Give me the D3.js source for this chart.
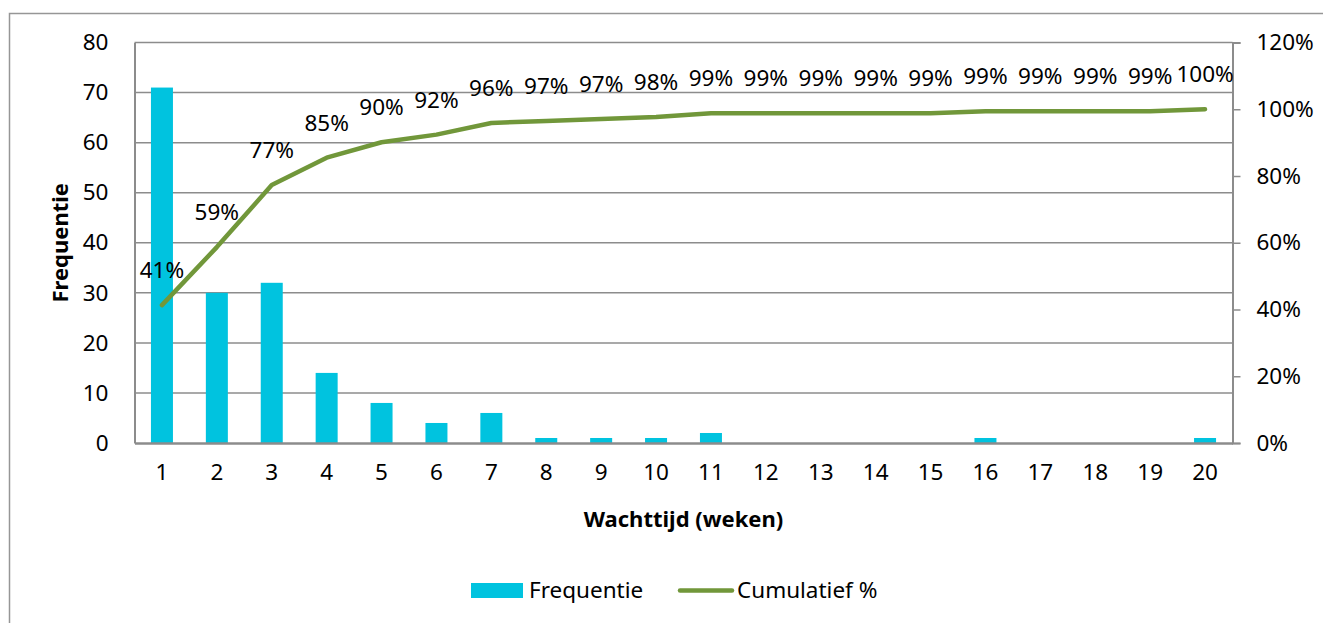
<!DOCTYPE html>
<html><head><meta charset="utf-8">
<script src="https://cdn.jsdelivr.net/npm/d3@7"></script>
<style>
html,body{margin:0;padding:0;background:#fff;}
svg{display:block;font-family:"Noto Sans","Open Sans",sans-serif;}
</style></head>
<body>
<svg id="chart" width="1323" height="623"></svg>
<script>
const categories = ["1","2","3","4","5","6","7","8","9","10","11","12","13","14","15","16","17","18","19","20"];
const frequentie = [71,30,32,14,8,4,6,1,1,1,2,0,0,0,0,1,0,0,0,1];
const cumulatief = [41.3,58.7,77.3,85.5,90.1,92.4,95.9,96.5,97.1,97.7,98.8,98.8,98.8,98.8,98.8,99.4,99.4,99.4,99.4,100];
const cumLabels = ["41%","59%","77%","85%","90%","92%","96%","97%","97%","98%","99%","99%","99%","99%","99%","99%","99%","99%","99%","100%"];
const leftTicks = [0,10,20,30,40,50,60,70,80];
const rightTicks = [0,20,40,60,80,100,120];

const svg = d3.select("#chart");
const L = 134.5, R = 1232.5, T = 42.5, B = 443;
const gray = "#8c8c8c";
const barColor = "#00c3df";
const lineColor = "#71973a";
const fs = 22.5;
const fsB = 22;

// outer border
svg.append("rect").attr("x",9.5).attr("y",13.5).attr("width",1330).attr("height",640)
  .attr("fill","none").attr("stroke","#969696").attr("stroke-width",1.5);

const x = d3.scaleBand().domain(categories).range([L,R]).paddingInner(0).paddingOuter(0);
const yL = d3.scaleLinear().domain([0,80]).range([B,T]);
const yR = d3.scaleLinear().domain([0,120]).range([B,T]);

// gridlines
svg.append("g").selectAll("line").data(leftTicks.filter(d=>d>0)).join("line")
  .attr("x1",L).attr("x2",R).attr("y1",d=>yL(d)).attr("y2",d=>yL(d))
  .attr("stroke",gray).attr("stroke-width",1.5);

// bars
const bw = 22;
svg.append("g").selectAll("rect").data(frequentie).join("rect")
  .attr("x",(d,i)=>x(categories[i])+x.bandwidth()/2-bw/2)
  .attr("width",bw)
  .attr("y",d=>yL(d)).attr("height",d=>B-yL(d))
  .attr("fill",barColor);

// left axis
const gL = svg.append("g").attr("transform",`translate(${L},0)`)
  .call(d3.axisLeft(yL).tickValues(leftTicks).tickSize(0).tickPadding(26).tickFormat(d3.format("d")));
gL.select(".domain").attr("stroke",gray).attr("stroke-width",2);
gL.selectAll("text").attr("font-size",fs).attr("fill","#000").attr("font-family","Noto Sans");

// right axis
const gR = svg.append("g").attr("transform",`translate(${R},0)`)
  .call(d3.axisRight(yR).tickValues(rightTicks).tickSize(8).tickPadding(16).tickFormat(d=>d+"%"));
gR.select(".domain").attr("stroke",gray).attr("stroke-width",2);
gR.selectAll("line").attr("stroke",gray).attr("stroke-width",1.5);
gR.selectAll("text").attr("font-size",fs).attr("fill","#000").attr("font-family","Noto Sans");

// bottom axis
const gB = svg.append("g").attr("transform",`translate(0,${B})`)
  .call(d3.axisBottom(x).tickSize(0).tickPadding(21));
gB.select(".domain").attr("stroke",gray).attr("stroke-width",2.5);
gB.selectAll("text").attr("font-size",fs).attr("fill","#000").attr("font-family","Noto Sans");

// line
const line = d3.line().x((d,i)=>x(categories[i])+x.bandwidth()/2).y(d=>yR(d));
svg.append("path").datum(cumulatief).attr("d",line)
  .attr("fill","none").attr("stroke",lineColor).attr("stroke-width",4.5)
  .attr("stroke-linecap","round").attr("stroke-linejoin","round");

// data labels
svg.append("g").selectAll("text").data(cumulatief).join("text")
  .attr("x",(d,i)=>x(categories[i])+x.bandwidth()/2)
  .attr("y",d=>yR(d)-27)
  .attr("text-anchor","middle").attr("font-size",fs).attr("fill","#000")
  .text((d,i)=>cumLabels[i]);

// axis titles
svg.append("text").attr("x",(L+R)/2).attr("y",527).attr("text-anchor","middle")
  .attr("font-size",fsB).attr("font-weight","bold").text("Wachttijd (weken)");
svg.append("text").attr("transform",`translate(68,${(T+B)/2}) rotate(-90)`).attr("text-anchor","middle")
  .attr("font-size",fsB).attr("font-weight","bold").text("Frequentie");

// legend
const lg = svg.append("g");
lg.append("rect").attr("x",471).attr("y",583).attr("width",52).attr("height",15).attr("fill",barColor);
lg.append("text").attr("x",529).attr("y",598).attr("font-size",fs).text("Frequentie");
lg.append("line").attr("x1",680).attr("x2",732).attr("y1",590.5).attr("y2",590.5)
  .attr("stroke",lineColor).attr("stroke-width",4.5).attr("stroke-linecap","round");
lg.append("text").attr("x",737).attr("y",598).attr("font-size",fs).text("Cumulatief %");
</script>
</body></html>
